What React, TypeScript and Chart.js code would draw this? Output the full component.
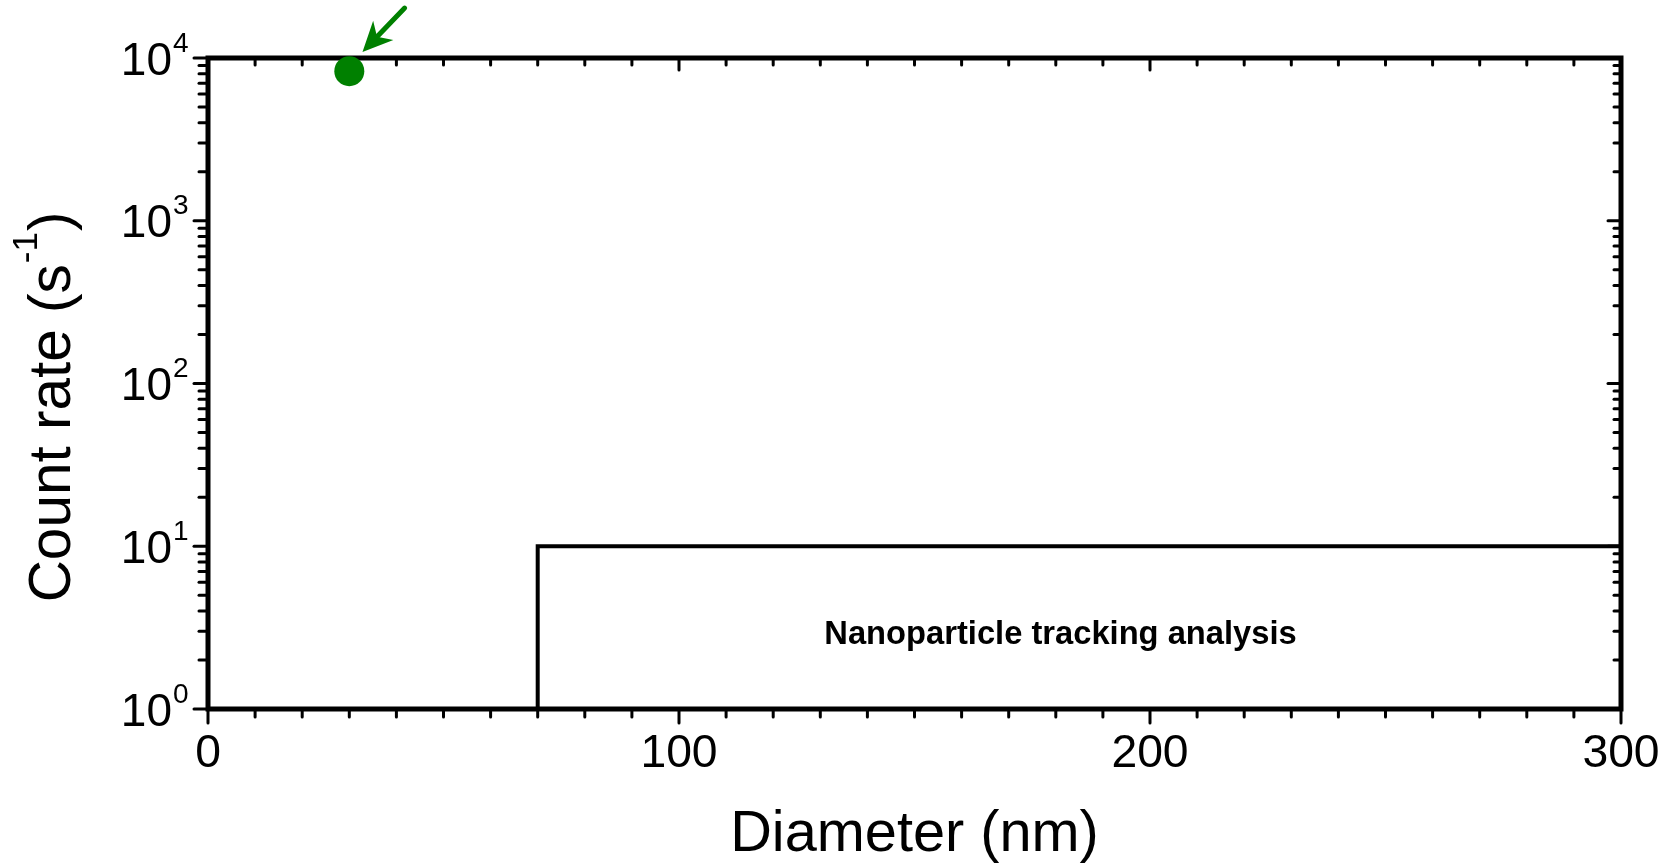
import React, { useEffect, useRef } from 'react';
import { Chart, registerables } from 'chart.js';

Chart.register(...registerables);

// ---- data ----
const ntaX = [70, 70, 300];
const ntaY = [1, 10, 10];
const dotX = [30];
const dotY = [8300];
const xTickStep = 100;
const xMinorStep = 10;
const yDecadeExponents = [0, 1, 2, 3, 4];
const xTitle = 'Diameter (nm)';
const yTitleParts = ['Count rate (s', '-1', ')'];
const ntaLabel = 'Nanoparticle tracking analysis';
const ntaLabelAt = [181, 2.5];
const arrowTail = [41.75, 20270];
const arrowTip = [32.8, 10890];

const FONT = "'Liberation Sans', Arial, Helvetica, sans-serif";
const GREEN = '#008000';

const framePlugin = {
  id: 'originFrame',
  beforeDatasetsDraw(chart: any) {
    const { ctx, chartArea: ca, scales } = chart;
    const xs = scales.x;
    const ys = scales.y;
    ctx.save();
    ctx.strokeStyle = '#000';
    ctx.fillStyle = '#000';
    const seg = (x1: number, y1: number, x2: number, y2: number) => {
      ctx.beginPath();
      ctx.moveTo(x1, y1);
      ctx.lineTo(x2, y2);
      ctx.stroke();
    };
    ctx.lineWidth = 3;
    ctx.lineCap = 'round';
    for (let v = xs.min; v <= xs.max + 1e-9; v += xMinorStep) {
      const px = xs.getPixelForValue(v);
      const major = Math.abs(v % xTickStep) < 1e-9;
      seg(px, ca.bottom, px, ca.bottom + (major ? 14 : 8));
      seg(px, ca.top, px, ca.top + (major ? 12 : 7));
    }
    const lo = yDecadeExponents[0];
    const hi = yDecadeExponents[yDecadeExponents.length - 1];
    for (let e = lo; e <= hi; e++) {
      for (let m = 1; m <= 9; m++) {
        if (e === hi && m > 1) break;
        const v = m * Math.pow(10, e);
        const py = ys.getPixelForValue(v);
        const major = m === 1;
        seg(ca.left, py, ca.left - (major ? 14 : 9), py);
        seg(ca.right, py, ca.right - (major ? 13 : 7), py);
      }
    }
    // frame
    ctx.lineCap = 'butt';
    ctx.lineWidth = 5;
    ctx.strokeRect(ca.left, ca.top, ca.right - ca.left, ca.bottom - ca.top);

    // y tick labels 10^n
    for (const e of yDecadeExponents) {
      const py = ys.getPixelForValue(Math.pow(10, e));
      ctx.textBaseline = 'alphabetic';
      ctx.textAlign = 'right';
      ctx.font = `46px ${FONT}`;
      ctx.fillText('10', ca.left - 36, py + 16.5);
      ctx.textAlign = 'left';
      ctx.font = `28px ${FONT}`;
      ctx.fillText(String(e), ca.left - 35, py - 6.5);
    }

    // y title with superscript
    ctx.save();
    ctx.translate(70, 408);
    ctx.rotate(-Math.PI / 2);
    ctx.textBaseline = 'alphabetic';
    ctx.textAlign = 'left';
    ctx.font = `58.5px ${FONT}`;
    const w1 = ctx.measureText(yTitleParts[0]).width;
    const w3 = ctx.measureText(yTitleParts[2]).width;
    ctx.font = `35px ${FONT}`;
    const w2 = ctx.measureText(yTitleParts[1]).width;
    const x0 = -(w1 + w2 + w3) / 2;
    ctx.font = `58.5px ${FONT}`;
    ctx.fillText(yTitleParts[0], x0, 0);
    ctx.fillText(yTitleParts[2], x0 + w1 + w2 + 2, 0);
    ctx.font = `35px ${FONT}`;
    ctx.fillText(yTitleParts[1], x0 + w1 + 1, -33);
    ctx.restore();

    // NTA label
    ctx.font = `bold 32.7px ${FONT}`;
    ctx.textAlign = 'center';
    ctx.textBaseline = 'alphabetic';
    ctx.fillText(ntaLabel, xs.getPixelForValue(ntaLabelAt[0]), ys.getPixelForValue(ntaLabelAt[1]));
    ctx.restore();
  },
  afterDatasetsDraw(chart: any) {
    const { ctx, scales } = chart;
    const xs = scales.x;
    const ys = scales.y;
    const tx = xs.getPixelForValue(arrowTip[0]);
    const ty = ys.getPixelForValue(arrowTip[1]);
    const sx = xs.getPixelForValue(arrowTail[0]);
    const sy = ys.getPixelForValue(arrowTail[1]);
    const ang = Math.atan2(ty - sy, tx - sx);
    const ux = Math.cos(ang), uy = Math.sin(ang);
    const nx = -uy, ny = ux;
    const headLen = 30, halfW = 14, notch = 21;
    ctx.save();
    ctx.strokeStyle = GREEN;
    ctx.fillStyle = GREEN;
    ctx.lineWidth = 5;
    ctx.lineCap = 'round';
    ctx.beginPath();
    ctx.moveTo(sx, sy);
    ctx.lineTo(tx - ux * notch, ty - uy * notch);
    ctx.stroke();
    ctx.beginPath();
    ctx.moveTo(tx, ty);
    ctx.lineTo(tx - ux * headLen + nx * halfW, ty - uy * headLen + ny * halfW);
    ctx.lineTo(tx - ux * notch, ty - uy * notch);
    ctx.lineTo(tx - ux * headLen - nx * halfW, ty - uy * headLen - ny * halfW);
    ctx.closePath();
    ctx.fill();
    ctx.restore();
  },
};

export default function App() {
  const ref = useRef<HTMLCanvasElement | null>(null);
  useEffect(() => {
    if (!ref.current) return;
    Chart.defaults.font.family = FONT;
    Chart.defaults.color = '#000';
    const chart = new Chart(ref.current, {
      type: 'scatter',
      data: {
        datasets: [
          {
            data: ntaX.map((x, i) => ({ x, y: ntaY[i] })),
            showLine: true,
            borderColor: '#000',
            borderWidth: 4,
            pointRadius: 0,
            fill: false,
            tension: 0,
          },
          {
            data: dotX.map((x, i) => ({ x, y: dotY[i] })),
            backgroundColor: GREEN,
            borderColor: GREEN,
            borderWidth: 0,
            pointRadius: 15,
            clip: false,
          } as any,
        ],
      },
      options: {
        animation: false,
        responsive: true,
        maintainAspectRatio: false,
        layout: { padding: { top: 58, right: 43, left: 0, bottom: 0 } },
        plugins: { legend: { display: false }, tooltip: { enabled: false } },
        scales: {
          x: {
            type: 'linear',
            min: 0,
            max: 300,
            grid: { display: false, drawTicks: false },
            border: { display: false },
            ticks: { stepSize: xTickStep, font: { size: 46.3 }, color: '#000', padding: 17, maxRotation: 0 },
            title: { display: true, text: xTitle, font: { size: 57.7, lineHeight: 1.0 }, color: '#000', padding: { top: 0, bottom: 0 } },
            afterFit: (s: any) => {
              s.height = 155;
              s.paddingLeft = 0;
              s.paddingRight = 0;
            },
          },
          y: {
            type: 'logarithmic',
            min: 1,
            max: 10000,
            grid: { display: false, drawTicks: false },
            border: { display: false },
            ticks: { display: false },
            afterFit: (s: any) => {
              s.width = 208;
              s.paddingTop = 0;
              s.paddingBottom = 0;
            },
          },
        },
      },
      plugins: [framePlugin],
    } as any);
    return () => chart.destroy();
  }, []);
  return (
    <div style={{ position: 'fixed', left: 0, top: 0, width: 1664, height: 864, background: '#fff' }}>
      <canvas ref={ref} />
    </div>
  );
}
